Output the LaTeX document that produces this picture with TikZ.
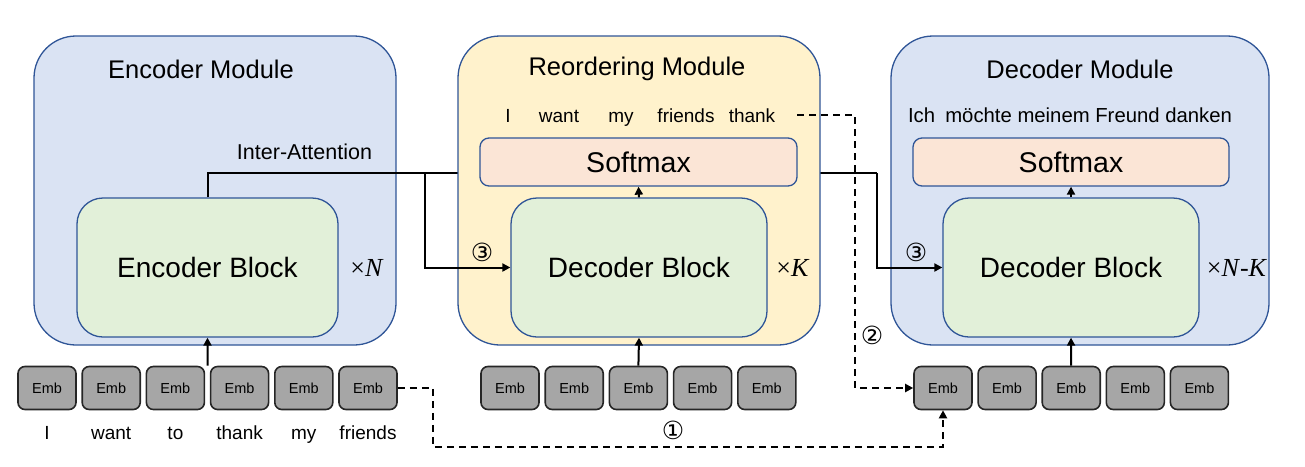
\documentclass[tikz,border=0pt]{standalone}
\usepackage{fontspec}
\setmainfont{Liberation Sans}
\newfontfamily\serifnum{Liberation Serif}
\newfontfamily\symfont{DejaVu Sans}
\usetikzlibrary{arrows.meta,calc}
\definecolor{modblue}{HTML}{DAE3F3}
\definecolor{modyellow}{HTML}{FFF2CC}
\definecolor{edgeblue}{HTML}{2F5597}
\definecolor{blockgreen}{HTML}{E2F0D9}
\definecolor{softpink}{HTML}{FBE5D6}
\definecolor{embgray}{HTML}{A6A6A6}
\definecolor{embedge}{HTML}{262626}
\tikzset{
  module/.style={draw=edgeblue,line width=1.3pt,rounded corners=42pt,minimum height=309pt,inner sep=0pt},
  blockbox/.style={draw=edgeblue,fill=blockgreen,line width=1.3pt,rounded corners=26pt,minimum width=256pt,minimum height=139pt,font=\fontsize{28}{31}\selectfont,inner sep=0pt},
  softbox/.style={draw=edgeblue,fill=softpink,line width=1.3pt,rounded corners=9pt,minimum width=317pt,minimum height=48pt,font=\fontsize{28.5}{31}\selectfont,inner sep=0pt},
  emb/.style={draw=embedge,fill=embgray,line width=1.6pt,rounded corners=7pt,minimum width=58pt,minimum height=43pt,font=\fontsize{14.5}{16}\selectfont,inner sep=0pt},
  title/.style={font=\fontsize{25.5}{29}\selectfont,inner sep=0pt},
  word/.style={font=\fontsize{19}{22}\selectfont,inner sep=0pt,anchor=base},
  reps/.style={font=\serifnum\fontsize{26}{29}\selectfont,inner sep=0pt},
  circnum/.style={font=\symfont\fontsize{25}{28}\selectfont,inner sep=0pt},
  conn/.style={line width=2pt,draw=black},
  arr/.style={conn,-{Triangle[length=8pt,width=8pt]}},
  dconn/.style={line width=2pt,draw=black,dash pattern=on 7pt off 5pt},
  darr/.style={dconn,-{Triangle[length=8pt,width=8pt]}},
}
\begin{document}
\begin{tikzpicture}[x=1pt,y=-1pt]
\useasboundingbox (0,0) rectangle (1305,466);
% encoder module
\node[module,fill=modblue,minimum width=362pt] (encmod) at (215,190.5) {};
\node[title] (enctitle) at (201,69) {Encoder Module};
\node[blockbox,minimum width=261pt] (encblock) at (207.5,267.5) {Encoder Block};
\node[reps] (repn) at (367,268) {×\textit{N}};
\node[font=\fontsize{21.5}{24}\selectfont,inner sep=0pt] (interatt) at (304.5,152) {Inter-Attention};
% decoder module
\node[module,fill=modblue,minimum width=378pt] (decmod) at (1080,190.5) {};
\node[title] (dectitle) at (1080,69) {Decoder Module};
\node[blockbox] (decblock) at (1071,267.5) {Decoder Block};
\node[softbox,minimum width=316pt] (decsoft) at (1071,162) {Softmax};
\node[reps] (repnk) at (1237,268) {×\textit{N}-\textit{K}};
\node[word,font=\fontsize{20.3}{23}\selectfont] (german) at (1070,122) {Ich\enspace möchte meinem Freund danken};
% inter-attention main path
\coordinate (j1) at (425,173);
\coordinate (j2) at (877,173);
\draw[conn] (encblock.north) |- (j1) -- (j2);
\draw[arr] (j2) |- (decblock.west);
% reordering module
\node[module,fill=modyellow,minimum width=362pt] (reomod) at (639,190.5) {};
\node[title] (reotitle) at (637,69) {Reordering Module};
\node[blockbox] (reoblock) at (639,267.5) {Decoder Block};
\node[softbox] (reosoft) at (638.5,162) {Softmax};
\node[reps] (repk) at (793,268) {×\textit{K}};
\node[word] (r1) at (508,122) {I};
\node[word] (r2) at (559,122) {want};
\node[word] (r3) at (621,122) {my};
\node[word] (r4) at (686,122) {friends};
\node[word] (r5) at (752,122) {thank};
\draw[arr] (j1) |- (reoblock.west);
\draw[arr] (reoblock.north) -- (reosoft.south);
\draw[arr] (decblock.north) -- (decsoft.south);
% embeddings
\foreach \i/\w in {0/I,1/want,2/to,3/thank,4/my,5/friends}{
  \node[emb] (ee\i) at ({47+64.2*\i},388) {Emb};
  \node[word] (ew\i) at ({47+64.2*\i},439) {\w};
}
\foreach \i in {0,...,4}{
  \node[emb] (re\i) at ({510+64.2*\i},388) {Emb};
  \node[emb] (de\i) at ({943+64.1*\i},388) {Emb};
}
\draw[arr] ($(ee2.north east)!.5!(ee3.north west)$) -- (encblock.south);
\draw[arr] (re2.north) -- (reoblock.south);
\draw[arr] (de2.north) -- (decblock.south);
% dashed connectors
\coordinate (d1a) at (433,388);
\coordinate (d1b) at (433,447);
\draw[darr] (ee5.east) -- (d1a) -- (d1b) -| (de0.south);
\coordinate (d2s) at (797,115);
\coordinate (d2a) at (855,115);
\draw[darr] (d2s) -- (d2a) |- (de0.west);
% circled labels
\node[circnum] (c1) at (673,430) {①};
\node[circnum] (c2) at (872,335) {②};
\node[circnum] (c3a) at (482,252) {③};
\node[circnum] (c3b) at (916,252) {③};
\end{tikzpicture}
\end{document}
